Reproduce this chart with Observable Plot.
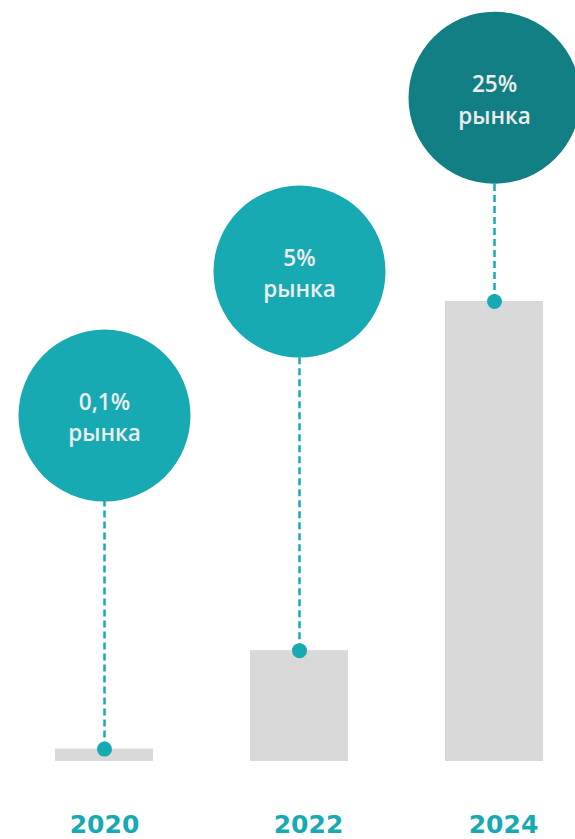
<!DOCTYPE html>
<html>
<head>
<meta charset="utf-8">
<script src="https://cdn.jsdelivr.net/npm/d3@7"></script>
<script src="https://cdn.jsdelivr.net/npm/@observablehq/plot@0.6"></script>
<style>
  html, body { margin: 0; padding: 0; background: #ffffff; }
  #chart svg { display: block; }
</style>
</head>
<body>
<div id="chart"></div>
<script>
// Data
const years = ["2020", "2022", "2024"];
const barValues = [2.7, 24.1, 100];          // relative bar heights (2024 = 100)
const shares = ["0,1%", "5%", "25%"];        // bubble labels
const bubbleLevels = [75.2, 106.5, 144.3];   // bubble centre on the same y scale
const unitLabel = "рынка";

const TEAL = "#17aab2";
const TEAL_DARK = "#117f83";
const GRAY = "#d9d9d9";
const FONT = "'Open Sans', 'Noto Sans', sans-serif";
const YEAR_FONT = "'DejaVu Sans', 'Open Sans', sans-serif";

const data = years.map((year, i) => ({
  year,
  value: barValues[i],
  share: shares[i],
  bubble: bubbleLevels[i]
}));

const chart = Plot.plot({
  width: 575,
  height: 839,
  margin: 0,
  style: { fontFamily: FONT, background: "#ffffff" },
  x: { domain: years, range: [6.5, 591.5], paddingInner: 0.5, paddingOuter: 0.25, axis: null },
  y: { domain: [0, 100], range: [761, 301], axis: null },
  color: { type: "identity" },
  marks: [
    Plot.barY(data, { x: "year", y: "value", fill: GRAY }),
    Plot.ruleX(data, {
      x: "year", y1: "value", y2: "bubble",
      stroke: TEAL, strokeWidth: 2.5, strokeDasharray: "7,4"
    }),
    Plot.dot(data, { x: "year", y: "value", r: 7.5, fill: TEAL, stroke: null }),
    Plot.dot(data, {
      x: "year", y: "bubble", r: 86, stroke: null,
      fill: d => d.year === "2024" ? TEAL_DARK : TEAL
    }),
    Plot.text(data, {
      x: "year", y: "bubble",
      text: d => d.share + "\n" + unitLabel,
      fill: "#ececec", fontSize: 22.5, fontWeight: 600, lineHeight: 1.4,
      fontFamily: FONT
    }),
    Plot.text(data.filter(d => d.year === "2020"), {
      x: "year", frameAnchor: "bottom", dy: -7, lineAnchor: "bottom",
      text: "year", fill: TEAL, fontSize: 25, fontWeight: 700, fontFamily: YEAR_FONT
    }),
    Plot.text(data.filter(d => d.year !== "2020"), {
      x: "year", frameAnchor: "bottom", dy: -7, dx: 9, lineAnchor: "bottom",
      text: "year", fill: TEAL, fontSize: 25, fontWeight: 700, fontFamily: YEAR_FONT
    })
  ]
});

document.getElementById("chart").appendChild(chart);
</script>
</body>
</html>
